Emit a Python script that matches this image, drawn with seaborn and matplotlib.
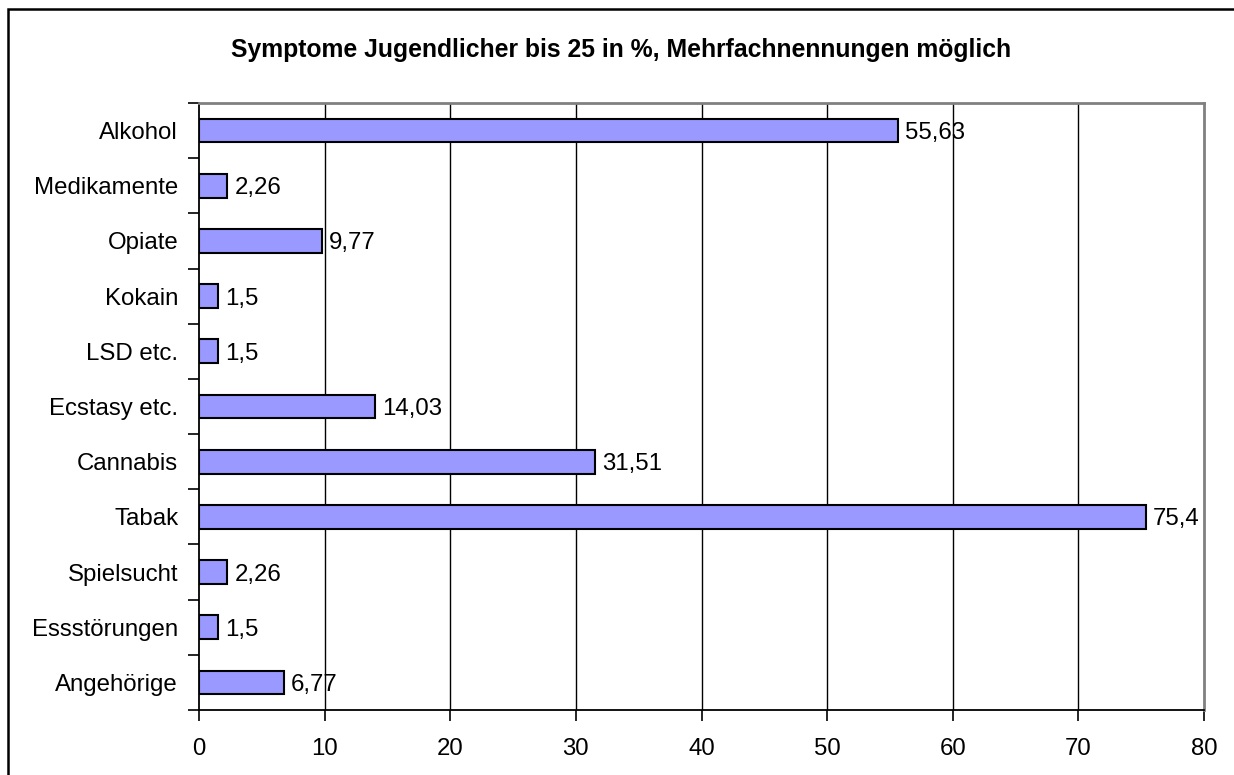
import matplotlib
matplotlib.use("Agg")
import matplotlib.pyplot as plt
import matplotlib.patches as patches
import seaborn as sns
import pandas as pd
import numpy as np

categories = ["Alkohol", "Medikamente", "Opiate", "Kokain", "LSD etc.", "Ecstasy etc.",
              "Cannabis", "Tabak", "Spielsucht", "Essstörungen", "Angehörige"]
values = [55.63, 2.26, 9.77, 1.5, 1.5, 14.03, 31.51, 75.4, 2.26, 1.5, 6.77]
title = "Symptome Jugendlicher bis 25 in %, Mehrfachnennungen möglich"
xticks = [0, 10, 20, 30, 40, 50, 60, 70, 80]

sns.set_theme(style="white")
plt.rcParams['font.family'] = ['Liberation Sans', 'DejaVu Sans']

FS = 17.3

df = pd.DataFrame({"cat": categories, "val": values})

fig = plt.figure(figsize=(12.34, 7.75), dpi=100)
ax = fig.add_axes([199/1234, 1-710/775, (1204-199)/1234, (710-103)/775])

sns.barplot(data=df, y="cat", x="val", orient="h", order=categories, ax=ax,
            color="#9999FF", saturation=1, width=0.43, edgecolor="black", linewidth=1.5)

ax.set_xlim(0, 80)
ax.set_ylim(len(categories) - 0.5, -0.5)
ax.set_xticks(xticks)
ax.set_xticklabels([str(t) for t in xticks])
ax.set_xlabel("")
ax.set_ylabel("")

# gridlines
for t in xticks[1:-1]:
    ax.axvline(t, color="black", lw=1.0, zorder=0)

# y tick marks at category boundaries
ax.set_yticks(range(len(categories)))
ax.set_yticklabels(categories)
ax.set_yticks(np.arange(-0.5, len(categories), 1.0), minor=True)
ax.tick_params(axis="y", which="major", length=0, pad=15, labelsize=FS, labelcolor="black")
ax.tick_params(axis="y", which="minor", length=8, width=1.2, color="black", left=True)
ax.tick_params(axis="x", which="major", length=8, width=1.2, color="black", bottom=True,
               pad=12, labelsize=FS, labelcolor="black")

for side in ["left", "bottom"]:
    ax.spines[side].set_color("black")
    ax.spines[side].set_linewidth(1.3)
for side in ["top", "right"]:
    ax.spines[side].set_visible(True)
    ax.spines[side].set_color("#808080")
    ax.spines[side].set_linewidth(2)

for i, v in enumerate(values):
    ax.text(v + 0.55, i, str(v).replace(".", ","), va="center_baseline", ha="left",
            fontsize=FS, color="black")

fig.text(621/1234, 1-50/775, title, ha="center", va="center", fontsize=17.8,
         fontweight="bold", color="black")

fig.add_artist(patches.Rectangle((8/1234, -0.2), 1.2, (1-9/775) + 0.2,
                                 transform=fig.transFigure, fill=False,
                                 edgecolor="black", lw=1.8, clip_on=False))

fig.savefig("out.png", dpi=100)
